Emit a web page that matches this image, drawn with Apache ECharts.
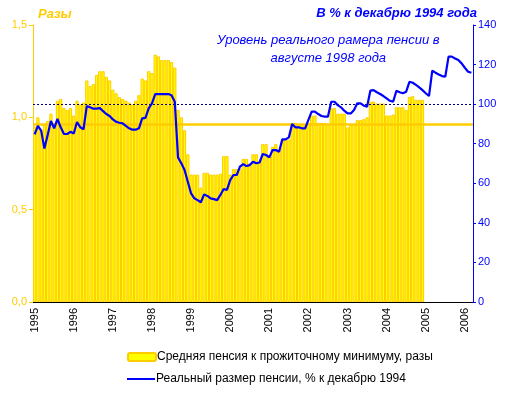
<!DOCTYPE html>
<html><head><meta charset="utf-8">
<script src="https://cdn.jsdelivr.net/npm/echarts@6/dist/echarts.min.js"></script>
<style>html,body{margin:0;padding:0;background:#fff}#c{width:506px;height:398px}</style>
</head><body><div id="c"></div>
<script>
const years = ['1995','1996','1997','1998','1999','2000','2001','2002','2003','2004','2005','2006'];
const monthsInLastYear = 3;
const pensionRatio = [
 0.95,1.00,0.93,0.96,0.98,1.02,0.97,1.09,1.10,1.05,1.04,1.05,
 1.01,1.09,1.07,1.08,1.20,1.17,1.18,1.23,1.25,1.25,1.22,1.20,
 1.15,1.13,1.11,1.10,1.09,1.08,1.07,1.09,1.12,1.21,1.20,1.25,
 1.24,1.34,1.33,1.31,1.31,1.31,1.30,1.27,1.04,1.00,0.93,0.80,
 0.69,0.69,0.69,0.62,0.70,0.70,0.69,0.69,0.69,0.695,0.79,0.79,
 0.69,0.72,0.72,0.72,0.775,0.775,0.75,0.80,0.80,0.76,0.855,0.855,
 0.79,0.84,0.855,0.82,0.88,0.88,0.88,0.97,0.97,0.96,0.96,0.96,
 0.97,1.01,1.01,0.97,0.97,0.97,0.96,1.05,1.05,1.02,1.02,1.02,
 0.946,0.96,0.96,0.985,0.985,0.99,1.00,1.085,1.085,1.075,1.075,1.075,
 1.01,1.01,1.015,1.055,1.055,1.055,1.04,1.11,1.115,1.095,1.095,1.095
];
const realPension = [
 84.7,89,86.6,77.6,84.4,91.5,87.8,92.5,88.3,84.9,84.9,86,
 85.2,91,88.3,87.3,99,98.4,97.7,97.7,98,96.5,95,94,
 92.3,91.1,90.6,90.3,89,87.8,87.1,87.1,87.8,92.8,93.1,97.9,
 100.4,105.1,105.1,105.1,105.1,105.1,104.5,101.2,73.1,70.1,66.7,60.8,
 54.9,52.4,51.5,50.4,54.4,53.6,52.4,52,51.5,54.1,57.1,56.6,
 61.6,64.2,64.2,68.4,69.7,68.7,69.2,70.9,70.1,70.5,74.8,74.3,
 73.1,76.8,76.8,75.9,82.2,82.2,83.2,89.9,88.3,88.3,87.8,87.8,
 92,96.2,96.2,95,94,93.7,93.7,101.2,101.2,99.5,98.4,96.7,
 95.3,95.3,97,100.4,100.4,99.2,98.7,106.8,107.1,106,105.1,104.1,
 102.9,101.7,101.2,106.8,106,105.5,106.3,111.3,110.8,109.7,108.5,107.1,
 105.5,104.1,116.9,115.9,115,114.2,113.9,124,124,123.1,122.3,120.6,
 118.4,116.4,115.9
];
const aug1998Level = 100;
const ratioRefLevel = 0.965;
const barName = 'Средняя пенсия к прожиточному минимуму, разы';
const lineName = 'Реальный размер пенсии, % к декабрю 1994';

const categories = [];
years.forEach((y, yi) => {
  const n = yi === years.length - 1 ? monthsInLastYear : 12;
  for (let m = 1; m <= n; m++) categories.push(y + '-' + (m < 10 ? '0' + m : m));
});

const FONT = 'Arial, "Liberation Sans", sans-serif';
const legendText = {color: '#000', fontSize: 12, fontFamily: FONT, padding: [0, 0, 0, -4]};
const chart = echarts.init(document.getElementById('c'), null, {renderer: 'canvas'});
chart.setOption({
  animation: false,
  textStyle: {fontFamily: FONT},
  grid: {left: 33, right: 33, top: 25, bottom: 96, containLabel: false},
  xAxis: {
    type: 'category', data: categories, boundaryGap: true,
    axisLine: {lineStyle: {color: '#000', width: 1}},
    axisTick: {show: false},
    axisLabel: {
      rotate: 90, color: '#000', fontSize: 11, fontFamily: FONT, margin: 6,
      interval: (i) => i % 12 === 0,
      formatter: (v) => v.slice(0, 4)
    }
  },
  yAxis: [{
    type: 'value', min: 0, max: 1.5, interval: 0.5,
    name: 'Разы', nameLocation: 'end', nameGap: 4,
    nameTextStyle: {color: '#FFCC00', fontSize: 13, fontWeight: 'bold', fontStyle: 'italic', align: 'left', padding: [0, 0, 0, 5], fontFamily: FONT},
    axisLine: {show: true, lineStyle: {color: '#FFCC00', width: 1}},
    axisTick: {show: true, length: 4, lineStyle: {color: '#FFCC00'}},
    splitLine: {show: false},
    axisLabel: {color: '#FFCC00', fontSize: 11, fontFamily: FONT, margin: 6,
      formatter: (v) => v.toFixed(1).replace('.', ',')}
  }, {
    type: 'value', min: 0, max: 140, interval: 20, position: 'right',
    name: 'В % к декабрю 1994 года', nameLocation: 'end', nameGap: 4,
    nameTextStyle: {color: '#0000FF', fontSize: 13, fontWeight: 'bold', fontStyle: 'italic', align: 'right', padding: [0, -4, 0, 0], fontFamily: FONT},
    axisLine: {show: true, lineStyle: {color: '#0000FF', width: 1}},
    axisTick: {show: true, length: 3, lineStyle: {color: '#0000FF'}},
    splitLine: {show: false},
    axisLabel: {color: '#0000FF', fontSize: 11, fontFamily: FONT, margin: 5}
  }],
  legend: [{
    left: 122, top: 346, itemWidth: 28, itemHeight: 8,
    textStyle: legendText, data: [barName]
  }, {
    left: 122, top: 367, itemWidth: 28, itemHeight: 2,
    textStyle: Object.assign({}, legendText, {lineHeight: 14}),
    data: [{name: lineName, icon: 'rect'}]
  }],
  graphic: [{
    type: 'text', left: 217, top: 31,
    style: {
      text: 'Уровень реального рамера пенсии в\nавгусте 1998 года',
      fill: '#0000FF', font: 'italic 13px ' + FONT, textAlign: 'center', lineHeight: 18
    }
  }],
  series: [{
    name: barName,
    type: 'bar', yAxisIndex: 0, data: pensionRatio,
    barCategoryGap: '0%', barGap: '0%',
    itemStyle: {color: '#FFFF00', borderColor: '#FFCC00', borderWidth: 1},
    markLine: {
      silent: true, symbol: 'none', label: {show: false},
      lineStyle: {color: '#FFCC00', width: 2.5, type: 'solid'},
      data: [{yAxis: ratioRefLevel}]
    }
  }, {
    name: lineName,
    type: 'line', yAxisIndex: 1, data: realPension,
    symbol: 'none', showSymbol: false,
    lineStyle: {color: '#0000FF', width: 2.2}, itemStyle: {color: '#0000FF'},
    z: 5,
    markLine: {
      silent: true, symbol: 'none', label: {show: false},
      lineStyle: {color: '#000080', width: 1, type: [2, 2]},
      data: [{yAxis: aug1998Level}]
    }
  }]
});
</script></body></html>
